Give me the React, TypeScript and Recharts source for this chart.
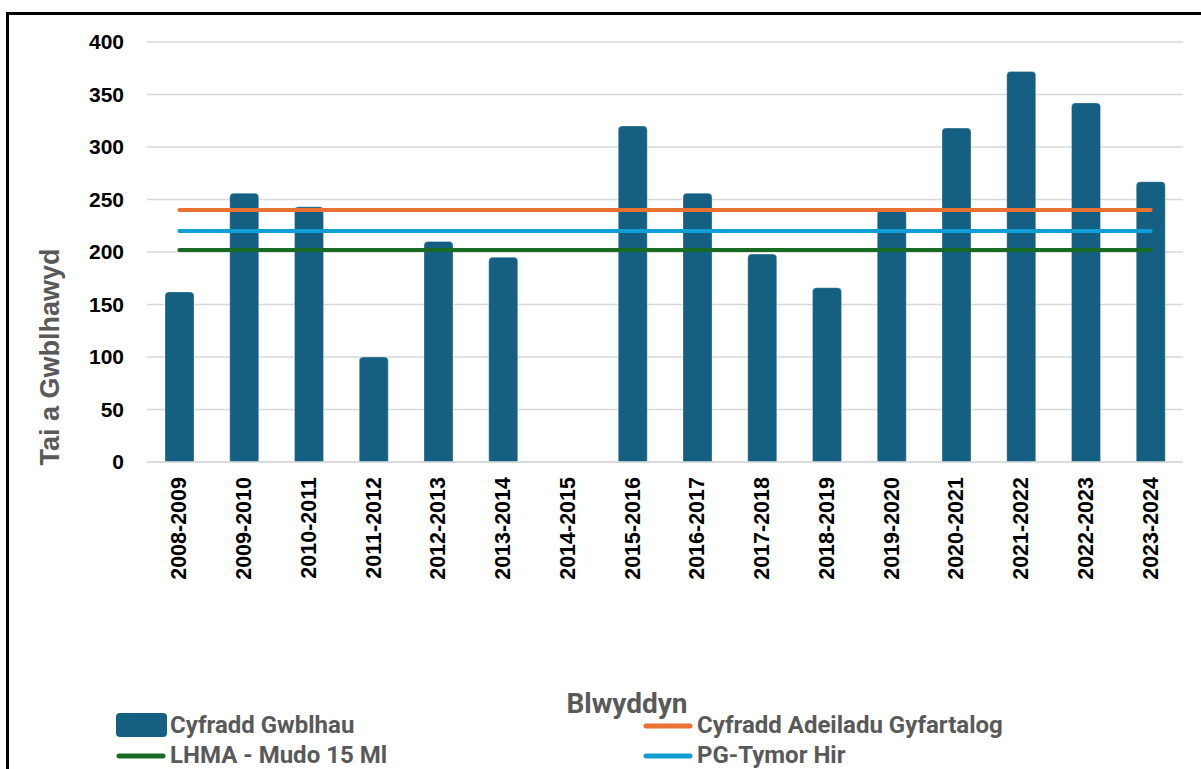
import React from 'react';
import {
    ComposedChart,
    Bar,
    Line,
    XAxis,
    YAxis,
    CartesianGrid,
    Legend,
    ReferenceLine,
} from 'recharts';

/* ── Data ────────────────────────────────────────────────────────────────── */
const YEARS = [
    '2008-2009', '2009-2010', '2010-2011', '2011-2012', '2012-2013', '2013-2014',
    '2014-2015', '2015-2016', '2016-2017', '2017-2018', '2018-2019', '2019-2020',
    '2020-2021', '2021-2022', '2022-2023', '2023-2024',
];
const COMPLETIONS = [162, 256, 243, 100, 210, 195, 0, 320, 256, 198, 166, 240, 318, 372, 342, 267];
const AVG_BUILD   = [240, 240, 240, 240, 240, 240, 240, 240, 240, 240, 240, 240, 240, 240, 240, 240];
const LHMA        = [202, 202, 202, 202, 202, 202, 202, 202, 202, 202, 202, 202, 202, 202, 202, 202];
const LONG_TERM   = [220, 220, 220, 220, 220, 220, 220, 220, 220, 220, 220, 220, 220, 220, 220, 220];
const Y_TICKS     = [0, 50, 100, 150, 200, 250, 300, 350, 400];

// legend reads row by row: bar, orange / green, blue
const LEGEND_ORDER = ['Cyfradd Gwblhau', 'Cyfradd Adeiladu Gyfartalog', 'LHMA - Mudo 15 Ml', 'PG-Tymor Hir'];

const data = YEARS.map((year, i) => ({
    year,
    completions: COMPLETIONS[i],
    avgBuild: AVG_BUILD[i],
    lhma: LHMA[i],
    longTerm: LONG_TERM[i],
}));

const BAR_COLOR    = '#156082';
const ORANGE       = '#E97132';
const GREEN        = '#196B24';
const BLUE         = '#0F9ED5';
const GREY_TEXT    = '#595959';
const ARIAL        = '"Liberation Sans", Arial, sans-serif';
const NARROW       = 'Roboto, "Liberation Sans", sans-serif';

/* ── X tick (rotated) ────────────────────────────────────────────────────── */
const XTick = ({ x, y, payload }: any) => (
    <text
        x={x} y={y + 15}
        transform={`rotate(-90, ${x}, ${y + 15})`}
        textAnchor="end"
        dominantBaseline="central"
        fill="#000"
        fontSize={21.5}
        fontWeight={700}
        fontFamily={ARIAL}
    >
        {payload.value}
    </text>
);

/* ── Axis titles ─────────────────────────────────────────────────────────── */
const YTitle = ({ viewBox }: any) => {
    const cx = viewBox.x + 50;
    const cy = viewBox.y + 315;
    return (
        <text
            x={cx} y={cy}
            transform={`rotate(-90, ${cx}, ${cy})`}
            textAnchor="middle"
            dominantBaseline="central"
            fill={GREY_TEXT}
            fontSize={27}
            fontWeight={700}
            fontFamily={ARIAL}
        >
            Tai a Gwblhawyd
        </text>
    );
};

const XTitle = ({ viewBox }: any) => (
    <text
        x={viewBox.x + 480} y={viewBox.y + 251}
        textAnchor="middle"
        fill={GREY_TEXT}
        fontSize={28}
        fontWeight={700}
        fontFamily={NARROW}
    >
        Blwyddyn
    </text>
);

/* ── Legend: two columns, row-major like the original ────────────────────── */
const LegendBox = ({ payload }: any) => {
    const cols = [116, 643];
    const rows = [725, 755];
    const items = [...(payload || [])].sort(
        (a: any, b: any) => LEGEND_ORDER.indexOf(a.value) - LEGEND_ORDER.indexOf(b.value),
    );
    return (
        <svg width={1201} height={769} style={{ position: 'absolute', left: 0, top: 0 }}>
            {items.map((p: any, i: number) => {
                const x = cols[i % 2];
                const y = rows[Math.floor(i / 2)];
                const isBar = p.type === 'rect';
                return (
                    <g key={p.value}>
                        {isBar ? (
                            <rect x={x} y={y - 12} width={51} height={24} rx={4} fill={p.color} />
                        ) : (
                            <line x1={x + 3} x2={x + 47} y1={y + 1} y2={y + 1}
                                  stroke={p.color} strokeWidth={5} strokeLinecap="round" />
                        )}
                        <text
                            x={x + 54} y={y + 8}
                            fill={GREY_TEXT}
                            fontSize={24}
                            fontWeight={700}
                            fontFamily={NARROW}
                        >
                            {p.value}
                        </text>
                    </g>
                );
            })}
        </svg>
    );
};

/* ── Main chart ──────────────────────────────────────────────────────────── */
export default function App() {
    return (
        <div style={{
            position: 'fixed', left: 0, top: 0, width: 1201, height: 769,
            overflow: 'hidden', background: '#fff',
        }}>
            <div style={{
                position: 'absolute', left: 6, top: 12, width: 1300, height: 900,
                border: '3.5px solid #000', boxSizing: 'border-box',
            }} />
            <div style={{ position: 'absolute', left: 0, top: 0 }}>
                <ComposedChart
                    width={1201}
                    height={769}
                    data={data}
                    margin={{ top: 42, right: 18, left: 0, bottom: 177 }}
                >
                    <CartesianGrid vertical={false} stroke="#d9d9d9" strokeWidth={1.5} />

                    <YAxis
                        domain={[0, 400]}
                        ticks={Y_TICKS}
                        width={147}
                        axisLine={false}
                        tickLine={false}
                        tickSize={0}
                        tickMargin={23}
                        tick={{ fill: '#000', fontSize: 21, fontWeight: 700, fontFamily: ARIAL }}
                        label={<YTitle />}
                    />

                    <XAxis
                        dataKey="year"
                        height={130}
                        axisLine={false}
                        tickLine={false}
                        tickSize={0}
                        tickMargin={0}
                        interval={0}
                        tick={<XTick />}
                        label={<XTitle />}
                    />

                    <Legend
                        layout="horizontal"
                        verticalAlign="middle"
                        align="center"
                        content={<LegendBox />}
                        wrapperStyle={{ left: 0, top: 0, width: 1201, height: 769, pointerEvents: 'none' }}
                    />

                    <Bar
                        dataKey="completions"
                        name="Cyfradd Gwblhau"
                        fill={BAR_COLOR}
                        stroke="rgba(255,255,255,0.3)"
                        strokeWidth={1}
                        barSize={29}
                        radius={[4, 4, 0, 0]}
                        legendType="rect"
                        isAnimationActive={false}
                    />
                    <Line
                        dataKey="avgBuild"
                        name="Cyfradd Adeiladu Gyfartalog"
                        stroke={ORANGE}
                        strokeWidth={4}
                        strokeLinecap="round"
                        dot={false}
                        legendType="line"
                        isAnimationActive={false}
                    />
                    <Line
                        dataKey="lhma"
                        name="LHMA - Mudo 15 Ml"
                        stroke={GREEN}
                        strokeWidth={4}
                        strokeLinecap="round"
                        dot={false}
                        legendType="line"
                        isAnimationActive={false}
                    />
                    <Line
                        dataKey="longTerm"
                        name="PG-Tymor Hir"
                        stroke={BLUE}
                        strokeWidth={4}
                        strokeLinecap="round"
                        dot={false}
                        legendType="line"
                        isAnimationActive={false}
                    />

                    <ReferenceLine y={0} stroke="#d9d9d9" strokeWidth={1.5} />
                </ComposedChart>
            </div>
        </div>
    );
}
